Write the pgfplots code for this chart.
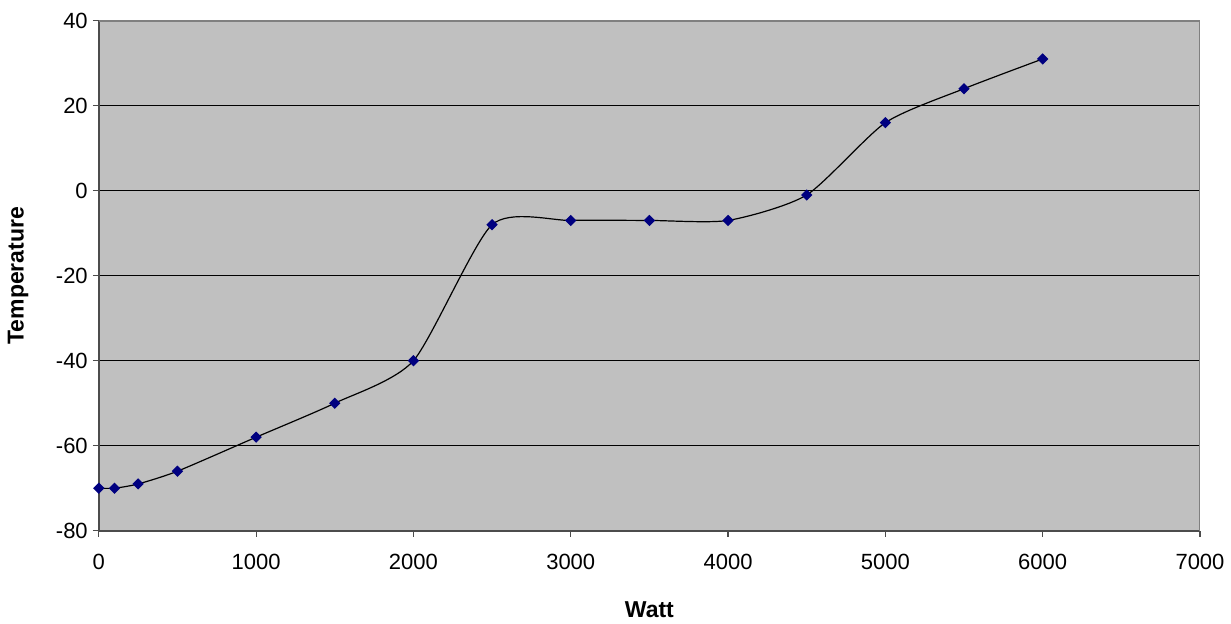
\documentclass[border=0pt]{standalone}
\usepackage{fontspec}
\setmainfont{Liberation Sans}
\usepackage{pgfplots}
\pgfplotsset{compat=1.18}

\definecolor{plotbg}{RGB}{192,192,192}
\definecolor{marknavy}{RGB}{0,0,128}

\begin{document}
\begin{tikzpicture}
% fix the page to the reference proportions (1231x624 px at 0.5pt per px)
\useasboundingbox (-49.4pt,-46.65pt) rectangle (566.1pt,265.35pt);
\begin{axis}[
    at={(0,0)}, anchor=south west,
    scale only axis,
    width=550.6pt,
    height=255pt,
    xmin=0, xmax=7000,
    ymin=-80, ymax=40,
    xtick={0,1000,...,7000},
    ytick={-80,-60,...,40},
    axis lines=left,
    axis line style={-, draw=black!70, line width=0.9pt},
    axis background/.style={fill=plotbg},
    tick align=outside,
    major tick length=3pt,
    tick style={black!70, line width=0.6pt},
    ymajorgrids,
    grid style={black, line width=0.6pt},
    /pgf/number format/1000 sep={},
    /pgf/number format/assume math mode=true,
    ticklabel style={font=\fontsize{11}{13}\selectfont},
    xticklabel style={yshift=-5pt},
    yticklabel style={xshift=1pt},
    xlabel={\textbf{Watt}},
    ylabel={\textbf{Temperature}},
    xlabel style={at={(axis description cs:0.5,-0.155)}, anchor=center, font=\fontsize{11.5}{13}\selectfont},
    ylabel style={at={(axis description cs:-0.0734,0.5)}, anchor=center, font=\fontsize{11.5}{13}\selectfont},
]
\addplot[black, line width=0.6pt, smooth, tension=0.4,
    mark=square*, mark size=1.7pt,
    mark options={rotate=45, fill=marknavy, draw=marknavy}]
coordinates {
    (0,-70) (100,-70) (250,-69) (500,-66) (1000,-58) (1500,-50)
    (2000,-40) (2500,-8) (3000,-7) (3500,-7) (4000,-7) (4500,-1)
    (5000,16) (5500,24) (6000,31)
};
% plot area border (top and right) in gray
\draw[gray, line width=0.8pt] (rel axis cs:0,1) -- (rel axis cs:1,1) -- (rel axis cs:1,0);
\end{axis}
\end{tikzpicture}
\end{document}
